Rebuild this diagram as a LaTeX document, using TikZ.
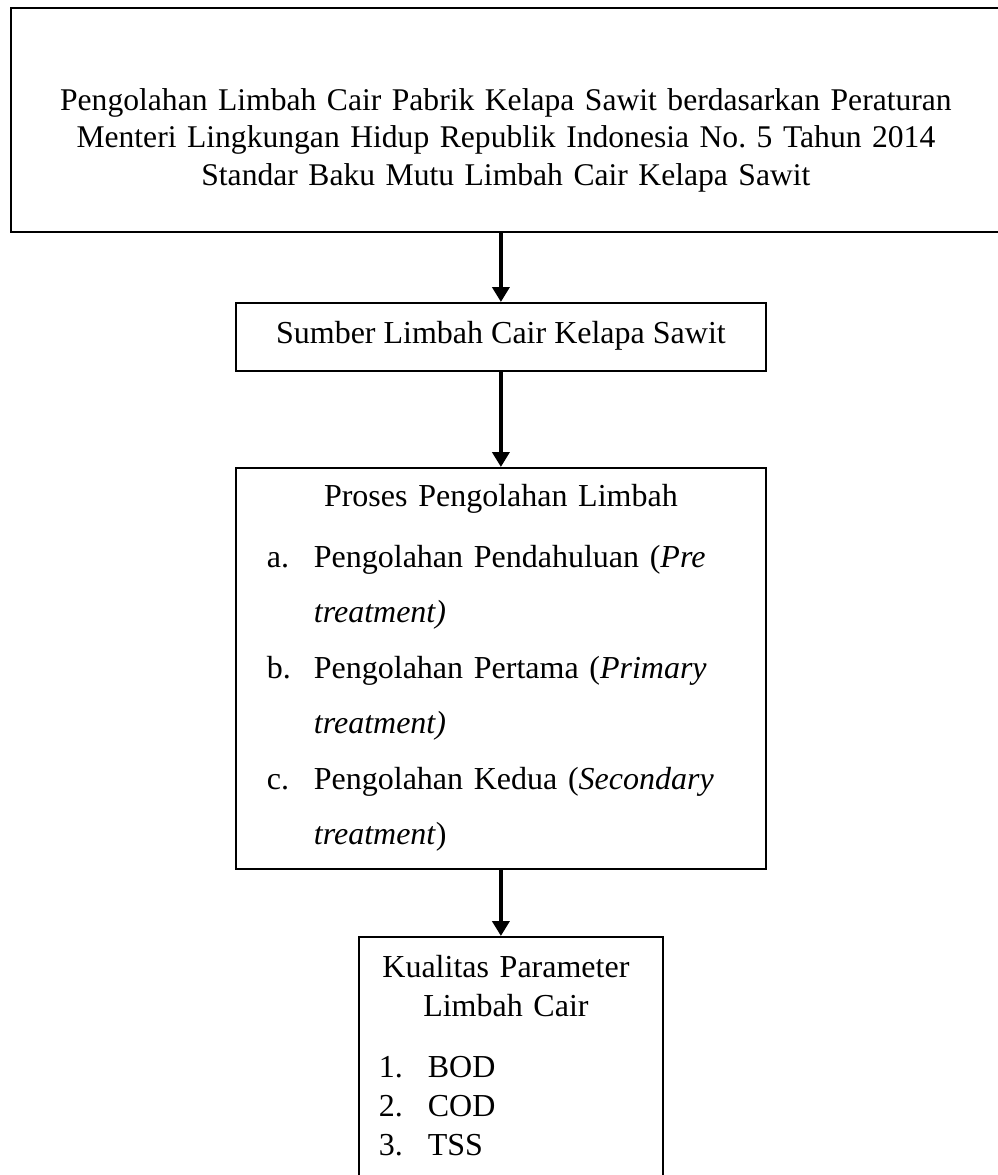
\documentclass[tikz,border=0pt]{standalone}
\usepackage{fontspec}
\setmainfont{Liberation Serif}
\usetikzlibrary{positioning,arrows.meta}
\frenchspacing

\tikzset{
  kotak/.style={draw, line width=1.8pt, inner sep=0pt},
  isi/.style={inner sep=0pt, align=left, font=\fontsize{32}{37.5}\selectfont},
  panah/.style={line width=4.5pt, -{Triangle[width=17pt,length=15pt]}}
}
\newcommand{\butir}[3][47pt]{\par\noindent\hangindent=#1\hangafter=1\makebox[#1][l]{#2}#3\par}

\begin{document}
\begin{tikzpicture}[x=1pt,y=-1pt]
\useasboundingbox (0,0) rectangle (997,1175);
% kotak
\node[kotak, minimum width=990pt, minimum height=224pt, anchor=north west] (regulasi) at (10,7) {};
\node[kotak, minimum width=530pt, minimum height=68pt, anchor=north west] (sumber) at (235,302) {};
\node[kotak, minimum width=530pt, minimum height=401pt, anchor=north west] (proses) at (235,467) {};
\node[kotak, minimum width=304pt, minimum height=280pt, anchor=north west] (kualitas) at (358,936) {};
% isi kotak
\node[isi, text width=960pt, align=center, below=81pt of regulasi.north, font=\fontsize{31.6}{37.5}\selectfont] (regulasiteks)
  {Pengolahan Limbah Cair Pabrik Kelapa Sawit berdasarkan Peraturan\\
   Menteri Lingkungan Hidup Republik Indonesia No. 5 Tahun 2014\\
   Standar Baku Mutu Limbah Cair Kelapa Sawit};
\node[isi, below=19pt of sumber.north] (sumberteks) {Sumber Limbah Cair Kelapa Sawit};
\node[isi, text width=468pt, below=17pt of proses.north, font=\fontsize{32}{55.5}\selectfont] (prosesteks)
  {{\centering Proses Pengolahan Limbah\par}\vspace{5.5pt}
   \butir{a.}{Pengolahan Pendahuluan (\textit{Pre}\newline\textit{treatment)}}
   \butir{b.}{Pengolahan Pertama (\textit{Primary}\newline\textit{treatment)}}
   \butir{c.}{Pengolahan Kedua (\textit{Secondary}\newline\textit{treatment})}};
\node[isi, text width=254pt, below=19pt of kualitas.north, xshift=-5pt, font=\fontsize{32}{39}\selectfont] (kualitasteks)
  {{\centering Kualitas Parameter\par Limbah Cair\par}\vspace{22pt}
   \butir[49pt]{1.}{BOD}
   \butir[49pt]{2.}{COD}
   \butir[49pt]{3.}{TSS}};
% panah
\draw[panah] (regulasi.south -| sumber.north) -- (sumber.north);
\draw[panah] (sumber.south) -- (proses.north);
\draw[panah] (proses.south) -- (proses.south |- kualitas.north);
\end{tikzpicture}
\end{document}
